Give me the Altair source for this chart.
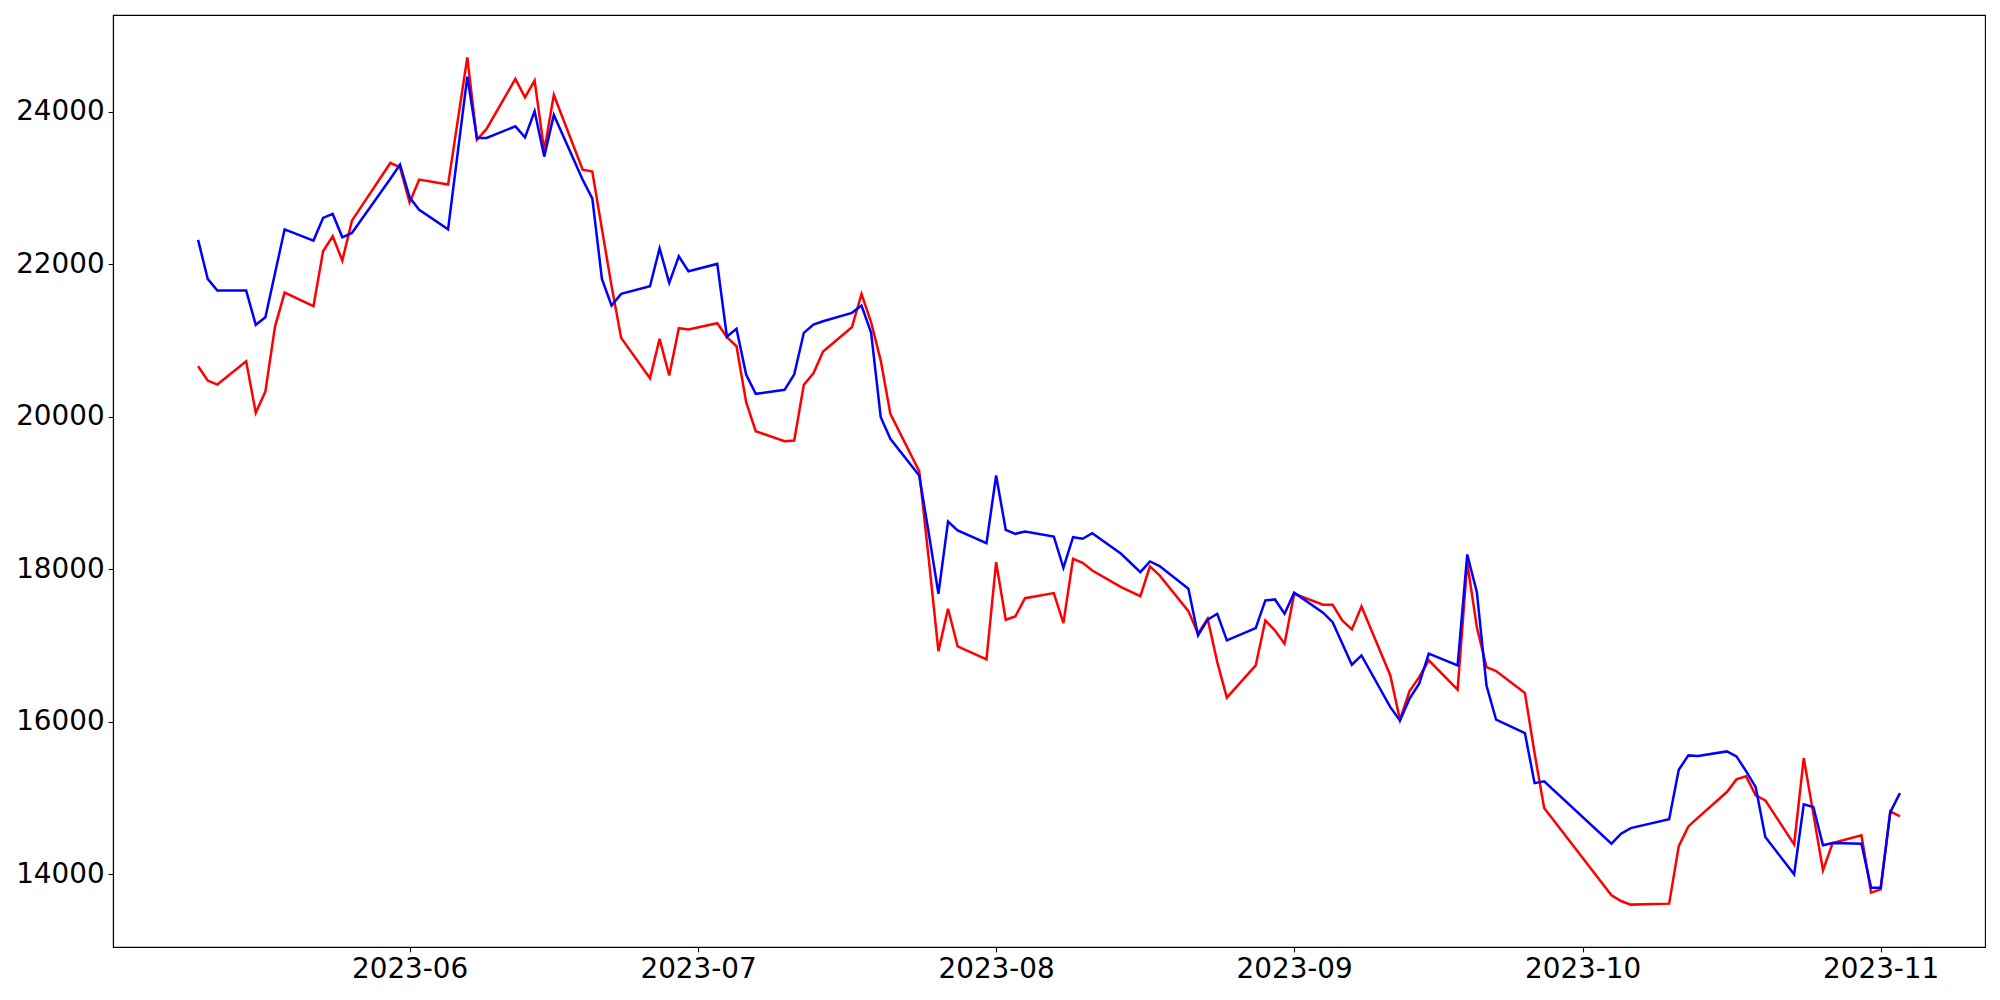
import altair as alt
import pandas as pd

# Trading days (KRX calendar) from 2023-05-10 to 2023-11-03
may = [10, 11, 12, 15, 16, 17, 18, 19, 22, 23, 24, 25, 26, 30, 31]
jun = [1, 2, 5, 7, 8, 9, 12, 13, 14, 15, 16, 19, 20, 21, 22, 23, 26, 27, 28, 29, 30]
jul = [3, 4, 5, 6, 7, 10, 11, 12, 13, 14, 17, 18, 19, 20, 21, 24, 25, 26, 27, 28, 31]
aug = [1, 2, 3, 4, 7, 8, 9, 10, 11, 14, 16, 17, 18, 21, 22, 23, 24, 25, 28, 29, 30, 31]
sep = [1, 4, 5, 6, 7, 8, 11, 12, 13, 14, 15, 18, 19, 20, 21, 22, 25, 26, 27]
oct_ = [4, 5, 6, 10, 11, 12, 13, 16, 17, 18, 19, 20, 23, 24, 25, 26, 27, 30, 31]
nov = [1, 2, 3]

red_values = [
    20664, 20476, 20423, 20729, 20052, 20332, 21184, 21630, 21451, 22172, 22369, 22050, 22574, 23331, 23273,
    22814, 23112, 23047, 24716, 23633, 23777, 24433, 24191, 24411, 23492, 24223, 23243, 23217, 22466, 21718,
    21036, 20506, 21023, 20542, 21162, 21145,
    21228, 21044, 20926, 20192, 19811, 19680, 19689, 20420, 20572, 20856, 21175, 21613, 21241, 20738, 20039,
    19287, 18128, 16926, 17482, 16987, 16817,
    18093, 17337, 17381, 17621, 17687, 17293, 18137, 18085, 17984, 17765, 17647, 18037, 17919, 17451, 17154,
    17351, 16782, 16315, 16738, 17328, 17197, 17023,
    17679, 17534, 17534, 17328, 17210, 17512, 16607, 16026, 16401, 16585, 16804, 16420, 18085, 17240, 16716,
    16664, 16375, 15590, 14867,
    13722, 13647, 13600, 13613, 14368, 14626, 14741, 15077, 15243, 15283, 15034, 14968, 14391, 15523, 14787,
    14050, 14408, 14508, 13757,
    13800, 14823, 14758,
]

blue_values = [
    22321, 21810, 21656, 21656, 21207, 21306, 21883, 22460, 22312, 22610, 22662, 22355, 22413, 23124, 23309,
    22880, 22715, 22460, 24463, 23659, 23659, 23811, 23667, 24008, 23414, 23961, 23110, 22867, 21810, 21460,
    21613, 21713, 22211, 21757, 22106, 21910,
    22006, 21053, 21154, 20555, 20302, 20354, 20555, 21102, 21210, 21254, 21364, 21460, 21102, 19995, 19711,
    19230, 18470, 17679, 18627, 18509, 18342,
    19230, 18518, 18465, 18496, 18430, 18019, 18421, 18400, 18473, 18203, 17962, 18102, 18041, 17744, 17132,
    17338, 17416, 17066, 17228, 17591, 17604, 17416,
    17692, 17430, 17306, 17027, 16747, 16869, 16191, 16017, 16302, 16498, 16892, 16738, 18194, 17699, 16476,
    16026, 15850, 15194, 15217,
    14400, 14531, 14604, 14719, 15370, 15558, 15549, 15610, 15545, 15352, 15142, 14487, 13997, 14916, 14880,
    14378, 14408, 14400, 13823,
    13823, 14814, 15063,
]

y_ticks = [14000, 16000, 18000, 20000, 22000, 24000]
x_tick_months = [6, 7, 8, 9, 10, 11]

dates = []
for m, days in [(5, may), (6, jun), (7, jul), (8, aug), (9, sep), (10, oct_), (11, nov)]:
    for d in days:
        dates.append(f"2023-{m:02d}-{d:02d}")

n = min(len(dates), len(red_values), len(blue_values))
df = pd.DataFrame({
    "date": dates[:n] * 2,
    "value": red_values[:n] + blue_values[:n],
    "series": ["red"] * n + ["blue"] * n,
})

x_enc = alt.X(
    "date:T",
    title=None,
    scale=alt.Scale(
        type="utc",
        domain=[
            alt.DateTime(year=2023, month=5, date=1, hours=3, minutes=36, utc=True),
            alt.DateTime(year=2023, month=11, date=11, hours=20, minutes=24, utc=True),
        ],
        nice=False,
    ),
    axis=alt.Axis(
        values=[alt.DateTime(year=2023, month=m, date=1, utc=True) for m in x_tick_months],
        labelExpr="utcFormat(datum.value, '%Y-%m')",
        grid=False,
        labelAngle=0,
    ),
)
y_enc = alt.Y(
    "value:Q",
    title=None,
    scale=alt.Scale(domain=[13044, 25272], nice=False, zero=False),
    axis=alt.Axis(values=y_ticks, format="d", grid=False),
)

base = alt.Chart(df)
red_line = base.transform_filter(alt.datum.series == "red").mark_line(
    color="#ff0000", strokeWidth=2.5
).encode(x=x_enc, y=y_enc)
blue_line = base.transform_filter(alt.datum.series == "blue").mark_line(
    color="#0000ff", strokeWidth=2.5
).encode(x=x_enc, y=y_enc)

chart = alt.layer(red_line, blue_line).properties(
    width=1872,
    height=932,
    autosize=alt.AutoSizeParams(type="none"),
    padding={"left": 105, "top": 7, "right": 7, "bottom": 45},
    background="white",
).configure_view(
    stroke="black", strokeWidth=1.1
).configure_axis(
    labelFont="DejaVu Sans",
    labelFontSize=27.8,
    labelColor="black",
    labelPadding=4,
    tickColor="black",
    tickSize=4.9,
    tickWidth=1.1,
    domainColor="black",
    domainWidth=1.1,
    grid=False,
)

chart.save("out.html", embed_options={"renderer": "svg", "actions": False})
